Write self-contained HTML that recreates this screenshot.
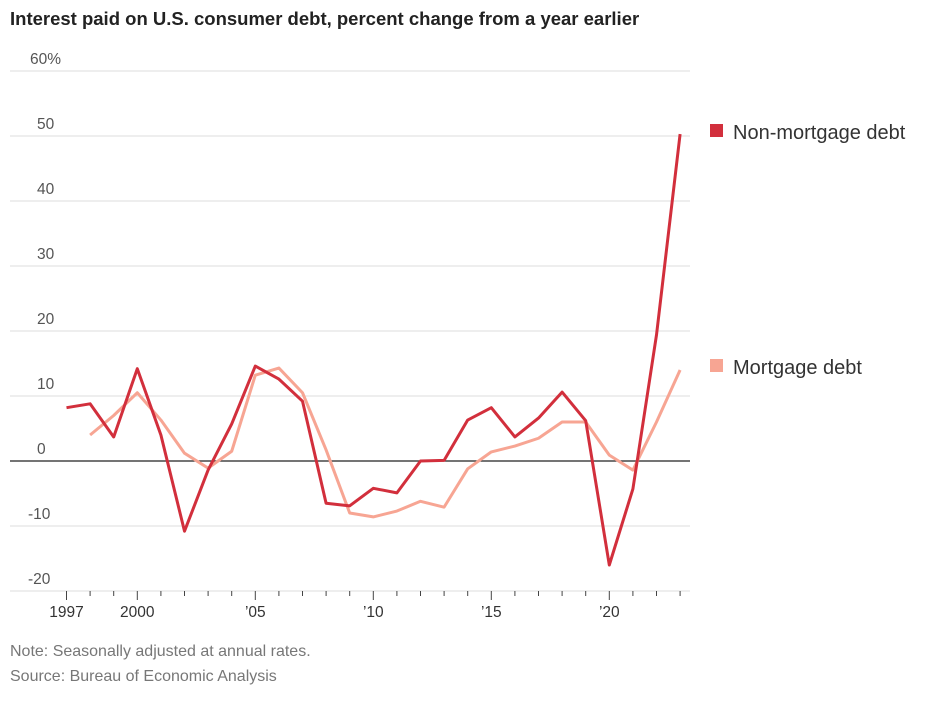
<!DOCTYPE html>
<html><head><meta charset="utf-8"><style>
body{margin:0;background:#fff;font-family:"Liberation Sans",sans-serif;}
svg text{font-family:"Liberation Sans",sans-serif;}
</style></head><body>
<svg id="chart" width="936" height="702" xmlns="http://www.w3.org/2000/svg">
<text x="10" y="25" font-size="18.5" font-weight="bold" fill="#222">Interest paid on U.S. consumer debt, percent change from a year earlier</text>
<g id="grid"></g><g id="xaxis"></g><g id="series"></g>
<g>
<rect x="710" y="124" width="13" height="13" fill="#d22f3c"/>
<text x="733" y="139" font-size="20" fill="#333">Non-mortgage debt</text>
<rect x="710" y="359" width="13" height="13" fill="#f7a593"/>
<text x="733" y="374" font-size="20" fill="#333">Mortgage debt</text>
</g>
<text x="10" y="656" font-size="16" fill="#777">Note: Seasonally adjusted at annual rates.</text>
<text x="10" y="681" font-size="16" fill="#777">Source: Bureau of Economic Analysis</text>
</svg>
<script>
const years=[1997,1998,1999,2000,2001,2002,2003,2004,2005,2006,2007,2008,2009,2010,2011,2012,2013,2014,2015,2016,2017,2018,2019,2020,2021,2022,2023];
const nonMortgage=[8.2,8.8,3.7,14.2,4,-10.8,-1.4,5.7,14.6,12.6,9.2,-6.5,-6.9,-4.2,-4.9,0,0.1,6.3,8.2,3.7,6.6,10.6,6.2,-16,-4.3,19.4,50.3];
const mortgageYears=[1998,1999,2000,2001,2002,2003,2004,2005,2006,2007,2008,2009,2010,2011,2012,2013,2014,2015,2016,2017,2018,2019,2020,2021,2022,2023];
const mortgage=[4,7,10.5,6.3,1.2,-1.1,1.5,13.2,14.3,10.5,1.7,-8,-8.6,-7.7,-6.2,-7.1,-1.2,1.4,2.3,3.5,6,6,0.9,-1.4,6,14];
const yTicks=[-20,-10,0,10,20,30,40,50,60];
const yTickLabels=["-20","-10","0","10","20","30","40","50","60%"];
const xTicks=[1997,2000,2005,2010,2015,2020];
const xTickLabels=["1997","2000","’05","’10","’15","’20"];
const NS="http://www.w3.org/2000/svg";
const x=v=>66.5+(v-1997)*23.6;
const y=v=>461-v*6.5;
function mk(tag,attrs,parent){const e=document.createElementNS(NS,tag);for(const k in attrs)e.setAttribute(k,attrs[k]);parent.appendChild(e);return e;}
const grid=document.getElementById('grid');
yTicks.forEach((t,i)=>{
 const l=mk('line',{x1:10,x2:690,y1:y(t),y2:y(t),stroke:t===0?'#222':'#ddd','stroke-width':t===0?1.3:1},grid);
 
 
 const tx=mk('text',{x:t===60?30:(t<0?28:37),y:y(t)-7,'font-size':15.5,fill:'#555'},grid);
 tx.textContent=yTickLabels[i];
 
 
});
const xa=document.getElementById('xaxis');
years.forEach(yr=>{
 const l=mk('line',{x1:x(yr),x2:x(yr),y1:591,y2:xTicks.includes(yr)?600:596,stroke:'#444','stroke-width':1},xa);
 
 
});
xTicks.forEach((t,i)=>{
 const tx=mk('text',{x:x(t),y:617,'font-size':15.5,fill:'#333','text-anchor':'middle'},xa);
 tx.textContent=xTickLabels[i];
 
 
});
const s=document.getElementById('series');
const p2=mk('polyline',{points:mortgageYears.map((yr,i)=>x(yr)+','+y(mortgage[i])).join(' '),fill:'none',stroke:'#f7a593','stroke-width':3,'stroke-linejoin':'round'},s);


const p1=mk('polyline',{points:years.map((yr,i)=>x(yr)+','+y(nonMortgage[i])).join(' '),fill:'none',stroke:'#d22f3c','stroke-width':3,'stroke-linejoin':'round'},s);


</script>
</body></html>
